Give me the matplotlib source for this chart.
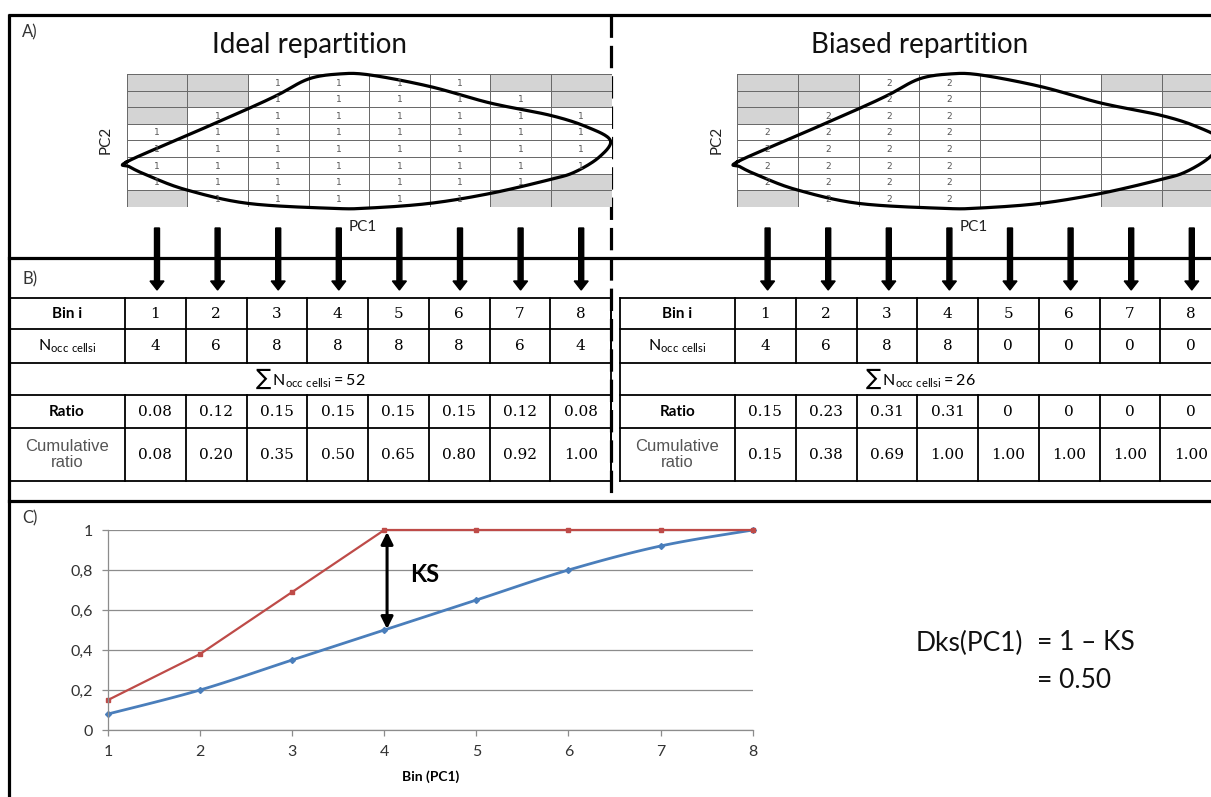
import numpy as np
import matplotlib
matplotlib.use('Agg')
import matplotlib.pyplot as plt
from matplotlib.colors import ListedColormap

plt.rcParams['font.family'] = ['Lato', 'DejaVu Sans']

# data
bins = [1, 2, 3, 4, 5, 6, 7, 8]
ideal_counts = [4, 6, 8, 8, 8, 8, 6, 4]
biased_counts = [4, 6, 8, 8, 0, 0, 0, 0]
ideal_total = 52
biased_total = 26
ideal_ratio = [0.08, 0.12, 0.15, 0.15, 0.15, 0.15, 0.12, 0.08]
biased_ratio = [0.15, 0.23, 0.31, 0.31, 0, 0, 0, 0]
ideal_cum = [0.08, 0.20, 0.35, 0.50, 0.65, 0.80, 0.92, 1.00]
biased_cum = [0.15, 0.38, 0.69, 1.00, 1.00, 1.00, 1.00, 1.00]
ytick_labels = ['0', '0,2', '0,4', '0,6', '0,8', '1']

# empty (grey) cells of the PC1 x PC2 grid, top row first
empty_cells = np.array([[1, 1, 0, 0, 0, 0, 1, 1],
                        [1, 1, 0, 0, 0, 0, 0, 1],
                        [1, 0, 0, 0, 0, 0, 0, 0],
                        [0, 0, 0, 0, 0, 0, 0, 0],
                        [0, 0, 0, 0, 0, 0, 0, 0],
                        [0, 0, 0, 0, 0, 0, 0, 0],
                        [0, 0, 0, 0, 0, 0, 0, 1],
                        [1, 0, 0, 0, 0, 0, 1, 1]])
ideal_weight = 1
biased_weight = 2
biased_bins_used = 4

# sketched outline of the environmental space (grid units: column, row from top)
outline = [(0.0, 5.3), (1.0, 3.7), (2.0, 2.1), (2.5, 1.25), (3.0, 0.3),
           (3.5, 0.0), (4.0, 0.05), (5.0, 0.75), (6.0, 1.75), (7.0, 2.5),
           (7.6, 3.2), (7.98, 4.0), (7.8, 5.0), (7.4, 5.9), (7.0, 6.35),
           (6.0, 7.2), (5.0, 7.8), (4.0, 8.08), (3.4, 8.1), (2.0, 7.8),
           (1.0, 7.0), (0.4, 6.2), (0.05, 5.6)]


def smooth(pts, closed, n=16):
    pts = np.asarray(pts, float)
    if closed:
        P = np.vstack([pts[-1], pts, pts[0], pts[1]])
    else:
        P = np.vstack([pts[0], pts, pts[-1]])
    t = np.linspace(0, 1, n, endpoint=False)[:, None]
    out = []
    for i in range(1, len(P) - 2):
        p0, p1, p2, p3 = P[i - 1], P[i], P[i + 1], P[i + 2]
        out.append(0.5 * (2 * p1 + (-p0 + p2) * t
                          + (2 * p0 - 5 * p1 + 4 * p2 - p3) * t ** 2
                          + (-p0 + 3 * p1 - 3 * p2 + p3) * t ** 3))
    out.append(P[-2][None])
    return np.vstack(out)


W, H = 1211, 797
fig = plt.figure(figsize=(W / 100, H / 100), dpi=100)
base = fig.add_axes([0, 0, 1, 1])
base.set_xlim(0, W)
base.set_ylim(H, 0)
base.axis('off')


def px_axes(x0, y0, x1, y1):
    ax = fig.add_axes([x0 / W, 1 - y1 / H, (x1 - x0) / W, (y1 - y0) / H])
    ax.patch.set_alpha(0)
    return ax


# frame
frame_lw = 2.3
base.plot([8, W], [15, 15], color='k', lw=frame_lw, solid_capstyle='butt')
base.plot([9, 9], [14, H], color='k', lw=frame_lw, solid_capstyle='butt')
base.plot([9, W], [258, 258], color='k', lw=frame_lw)
base.plot([9, W], [501, 501], color='k', lw=frame_lw)

# panel labels
base.text(22, 32, 'A)', fontsize=12, color='#333333', va='center')
base.text(22, 279, 'B)', fontsize=12, color='#333333', va='center')
base.text(22, 518, 'C)', fontsize=12, color='#333333', va='center')

# ---- panel A : grids ----
col_w = 60.6
grid_top, grid_bot = 74, 206.7
cmap = ListedColormap(['white', '#d4d4d4'])
shape = smooth(outline, closed=True)

for gx0, title, title_x, weight, nbins in [(126.7, 'Ideal repartition', 310, ideal_weight, 8),
                                            (737.3, 'Biased repartition', 920, biased_weight, biased_bins_used)]:
    base.text(title_x, 45, title, fontsize=20, ha='center', va='center', color='#111111')
    gax = px_axes(gx0, grid_top, gx0 + 8 * col_w, grid_bot)
    gax.set_xlim(0, 8)
    gax.set_ylim(8, 0)
    gax.axis('off')
    gax.pcolormesh(np.arange(9), np.arange(9), empty_cells, cmap=cmap,
                   edgecolors='#6a6a6a', linewidth=0.7)
    for r in range(8):
        for c in range(nbins):
            if not empty_cells[r, c]:
                gax.text(c + 0.5, r + 0.55, str(weight), fontsize=6.5, color='#555555',
                         ha='center', va='center', family='DejaVu Sans')
    gax.plot(shape[:, 0], shape[:, 1], color='k', lw=2.3, clip_on=False)
    base.text(gx0 - 21, 140, 'PC2', rotation=90, fontsize=11, ha='center', va='center',
              color='#222222')
    base.text(gx0 + 236, 227, 'PC1', fontsize=11, ha='center', va='center', color='#222222')
    for i in range(8):
        x = gx0 + (i + 0.5) * col_w
        base.arrow(x, 228, 0, 62, width=5, head_width=14, head_length=9,
                   length_includes_head=True, fc='k', ec='k')

# ---- panel B : tables ----
row_edges = [297.7, 329.3, 362.7, 395, 428.3, 481]
row_mid = [(a + b) / 2 for a, b in zip(row_edges[:-1], row_edges[1:])]
tcol_w = 60.75
serif = 'DejaVu Serif'
num_size = 11


def draw_table(x_left, x_lab, x_right, counts, total, ratio, cum, left_border):
    for y in row_edges:
        base.plot([x_left, x_right], [y, y], color='k', lw=1.3)
    for r in [0, 1, 3, 4]:
        y0, y1 = row_edges[r], row_edges[r + 1]
        for k in range(9):
            base.plot([x_lab + k * tcol_w] * 2, [y0, y1], color='k', lw=1.3)
    if left_border:
        base.plot([x_left, x_left], [row_edges[0], row_edges[-1]], color='k', lw=1.3)
    lab_x = (x_left + x_lab) / 2
    base.text(lab_x, row_mid[0], 'Bin i', fontsize=11, fontweight='bold', ha='center', va='center')
    base.text(lab_x, row_mid[1], r'$\mathregular{N_{occ\ cells i}}$', fontsize=11.5,
              ha='center', va='center')
    base.text(lab_x, row_mid[3], 'Ratio', fontsize=11, fontweight='bold', ha='center', va='center')
    base.text(lab_x, row_mid[4], 'Cumulative\nratio', fontsize=12, family='Liberation Sans',
              color='#555555', ha='center', va='center', linespacing=1.1)
    for k in range(8):
        cx = x_lab + (k + 0.5) * tcol_w
        base.text(cx, row_mid[0], str(bins[k]), fontsize=num_size, family=serif, ha='center', va='center')
        base.text(cx, row_mid[1], str(counts[k]), fontsize=num_size, family=serif, ha='center', va='center')
        rv = f'{ratio[k]:.2f}' if ratio[k] else '0'
        base.text(cx, row_mid[3], rv, fontsize=num_size, family=serif, ha='center', va='center')
        base.text(cx, row_mid[4], f'{cum[k]:.2f}', fontsize=num_size, family=serif, ha='center', va='center')
    base.text((x_left + x_lab + 8 * tcol_w) / 2, row_mid[2],
              r'$\sum\,\mathregular{N_{occ\ cells i} = %d}$' % total,
              fontsize=11.5, ha='center', va='center')


draw_table(9, 125, 611, ideal_counts, ideal_total, ideal_ratio, ideal_cum, False)
draw_table(620, 735, 735 + 8 * tcol_w, biased_counts, biased_total, biased_ratio, biased_cum, True)
base.plot([611, 611], [row_edges[0], row_edges[-1]], color='k', lw=1.3)

# dashed separator between ideal and biased
base.plot([611, 611], [15, 501], color='k', lw=2.3, linestyle=(0, (7, 2.5)))

# ---- panel C : cumulative ratio curves ----
blue = '#4a7ebb'
red = '#be4b48'
cax = px_axes(108, 530, 752.7, 730)
cax.set_xlim(1, 8)
cax.set_ylim(0, 1)
for s in ['top', 'right']:
    cax.spines[s].set_visible(False)
for s in ['left', 'bottom']:
    cax.spines[s].set_color('#8c8c8c')
    cax.spines[s].set_linewidth(0.9)
cax.set_yticks([0, 0.2, 0.4, 0.6, 0.8, 1])
cax.set_yticklabels(ytick_labels)
cax.set_xticks(bins)
cax.yaxis.grid(True, color='#8c8c8c', lw=0.9)
cax.set_axisbelow(True)
cax.tick_params(axis='both', length=4, width=0.9, color='#8c8c8c', pad=7,
                labelsize=11.5, labelcolor='#333333')

blue_curve = smooth(list(zip(bins, ideal_cum)), closed=False)
cax.plot(blue_curve[:, 0], blue_curve[:, 1], color=blue, lw=2.0, clip_on=False)
cax.plot(bins, ideal_cum, ls='none', marker='D', ms=3, color=blue, clip_on=False)
cax.plot(bins, biased_cum, color=red, lw=1.6, marker='s', ms=3.5, clip_on=False)

cax.annotate('', xy=(4.03, 0.505), xytext=(4.03, 0.99),
             arrowprops=dict(arrowstyle='<|-|>', color='k', lw=2.2, mutation_scale=18,
                             shrinkA=0, shrinkB=0))
cax.text(4.44, 0.775, 'KS', fontsize=17, fontweight='bold', ha='center', va='center')
cax.set_xlabel('Bin (PC1)', fontsize=10, fontweight='bold', labelpad=8)

base.text(1023, 643, 'Dks(PC1)', fontsize=19, ha='right', va='center', color='#111111')
base.text(1037, 643, '= 1 \u2013 KS', fontsize=19, ha='left', va='center', color='#111111')
base.text(1037, 680, '= 0.50', fontsize=19, ha='left', va='center', color='#111111')

plt.savefig('out.png', dpi=100)
